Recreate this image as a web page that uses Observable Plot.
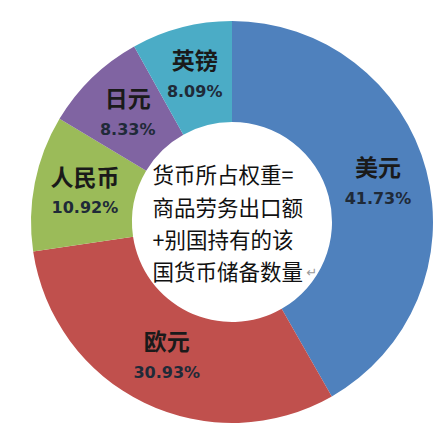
<!DOCTYPE html>
<html><head><meta charset="utf-8">
<script src="https://cdn.jsdelivr.net/npm/d3@7"></script>
<script src="https://cdn.jsdelivr.net/npm/@observablehq/plot@0.6"></script>
<style>body{margin:0;background:#fff}#chart svg{display:block}</style>
</head><body><div id="chart"></div>
<script>
const currencies = ["美元", "欧元", "人民币", "日元", "英镑"];
const shares = [41.73, 30.93, 10.92, 8.33, 8.09];
const shareLabels = ["41.73%", "30.93%", "10.92%", "8.33%", "8.09%"];
const colors = ["#4f81bd", "#c0504d", "#9bbb59", "#8064a2", "#4bacc6"];
const centerLines = ["货币所占权重=", "商品劳务出口额", "+别国持有的该", "国货币储备数量"];

const W = 436, H = 427, cx = 232, cy = 222, outerR = 201, innerR = 100;
const cjk = "'Noto Sans CJK SC', 'Noto Sans', sans-serif";

const data = currencies.map((c, i) => ({currency: c, share: shares[i], label: shareLabels[i]}));
const arcs = d3.pie().value(d => d.share).sort(null)(data);
const arcGen = d3.arc().innerRadius(innerR).outerRadius(outerR);
const labelData = arcs.map(a => { const [x, y] = arcGen.centroid(a); return {...a.data, x, y}; });

function donut(index, scales) {
  const x0 = scales.x(0), y0 = scales.y(0);
  const k = scales.x(1) - scales.x(0);
  const arc = d3.arc().innerRadius(innerR * k).outerRadius(outerR * k);
  const g = d3.create("svg:g").attr("transform", `translate(${x0},${y0})`);
  g.selectAll("path").data(arcs).join("path")
    .attr("d", arc)
    .attr("fill", d => scales.color(d.data.currency));
  return g.node();
}

const chart = Plot.plot({
  width: W, height: H,
  margin: 0,
  x: {domain: [-cx, W - cx], range: [0, W], axis: null},
  y: {domain: [-cy, H - cy], range: [0, H], axis: null},
  color: {domain: currencies, range: colors},
  marks: [
    donut,
    Plot.text(labelData, {x: "x", y: "y", text: "currency", dy: -15, fontSize: 23, fontWeight: "bold", fill: "#1a1a1a", fontFamily: cjk}),
    Plot.text(labelData, {x: "x", y: "y", text: "label", dy: 15, fontSize: 16, fontWeight: "bold", fill: "#1f2a38", fontFamily: "'DejaVu Sans', sans-serif"}),
    Plot.text([centerLines.join("\n")], {x: -80, y: -1, text: d => d, textAnchor: "start", lineHeight: 1.5, fontSize: 21.5, fill: "#111", fontFamily: cjk}),
    Plot.text(["↵"], {x: 74, y: 50, text: d => d, textAnchor: "start", fontSize: 13, fill: "#999", fontFamily: "'DejaVu Sans', sans-serif"})
  ]
});
document.getElementById("chart").append(chart);
</script>
</body></html>
